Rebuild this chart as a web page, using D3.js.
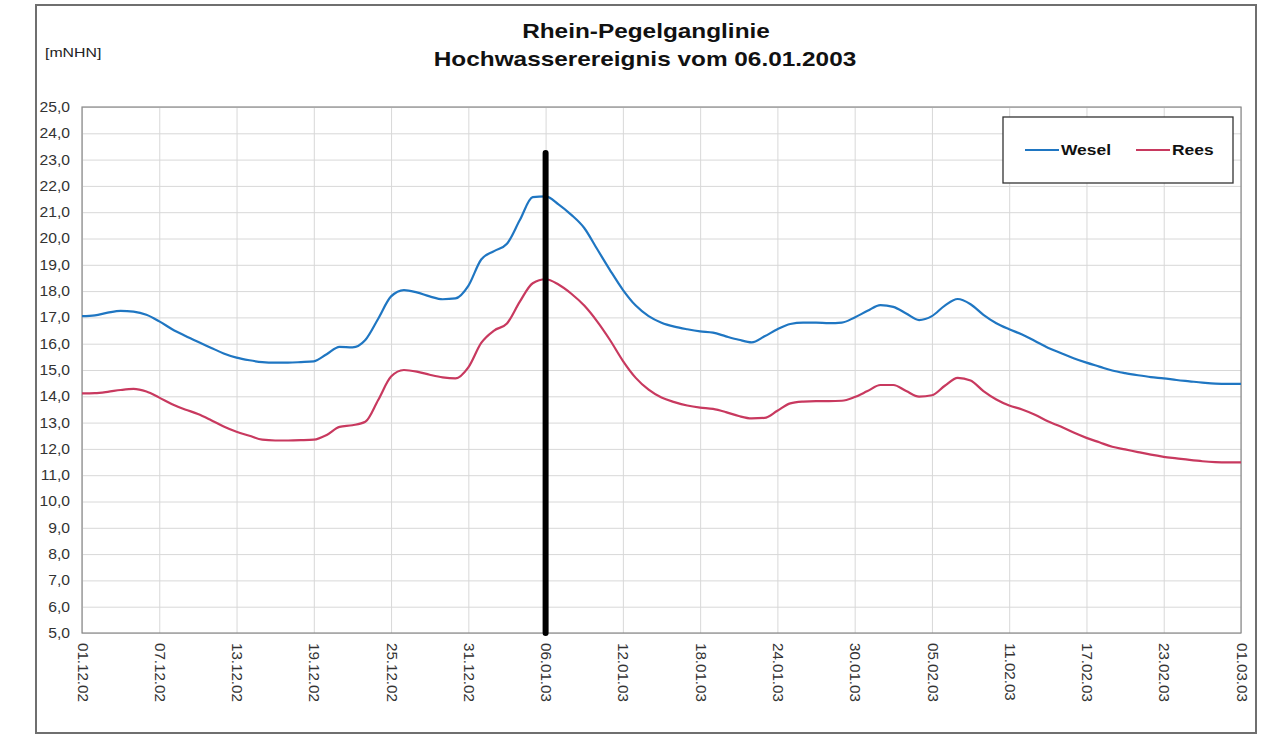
<!DOCTYPE html>
<html>
<head>
<meta charset="utf-8">
<script src="https://cdn.jsdelivr.net/npm/d3@7"></script>
<style>
body { margin: 0; background: #fff; }
text { font-family: "Liberation Sans", Arial, sans-serif; }
</style>
</head>
<body>
<svg width="1273" height="740"></svg>
<script>
var startDate = "01.12.02";
var tickLabels = ["01.12.02","07.12.02","13.12.02","19.12.02","25.12.02","31.12.02","06.01.03","12.01.03",
	"18.01.03","24.01.03","30.01.03","05.02.03","11.02.03","17.02.03","23.02.03","01.03.03"];
var eventDate = "06.01.03";
var eventTop = 23.25;

// daily water levels [mNHN] from 01.12.02
var wesel = [17.05,17.08,17.18,17.25,17.22,17.1,16.85,16.55,16.3,16.07,
	15.85,15.63,15.47,15.37,15.3,15.28,15.28,15.3,15.33,15.6,
	15.88,15.86,16.14,16.95,17.8,18.04,17.95,17.8,17.69,17.72,
	18.2,19.2,19.52,19.8,20.7,21.57,21.6,21.3,20.9,20.4,
	19.6,18.8,18.05,17.45,17.05,16.8,16.65,16.55,16.47,16.42,
	16.28,16.15,16.05,16.28,16.55,16.75,16.8,16.8,16.78,16.8,
	17.0,17.25,17.47,17.4,17.15,16.9,17.05,17.45,17.7,17.5,
	17.1,16.78,16.55,16.35,16.1,15.85,15.65,15.45,15.28,15.13,
	14.98,14.88,14.8,14.73,14.68,14.62,14.57,14.52,14.48,14.47,14.47];
var rees = [14.11,14.12,14.17,14.24,14.28,14.18,13.95,13.7,13.5,13.33,
	13.1,12.85,12.65,12.5,12.35,12.32,12.32,12.33,12.35,12.53,
	12.84,12.9,13.03,13.86,14.75,15.0,14.94,14.82,14.72,14.68,
	15.1,16.03,16.5,16.77,17.6,18.3,18.45,18.25,17.9,17.45,
	16.85,16.14,15.35,14.7,14.25,13.95,13.78,13.65,13.57,13.52,
	13.4,13.25,13.16,13.18,13.45,13.73,13.8,13.82,13.82,13.83,
	13.97,14.2,14.43,14.43,14.2,13.99,14.04,14.4,14.7,14.6,
	14.2,13.88,13.65,13.5,13.3,13.05,12.85,12.62,12.42,12.25,
	12.08,11.98,11.88,11.78,11.7,11.64,11.58,11.53,11.5,11.49,11.49];
var seriesNames = ["Wesel", "Rees"];
var seriesColors = ["#1f76c2", "#c8395f"];

var svg = d3.select("svg"),
	margin = {top: 107, right: 32, bottom: 107, left: 82},
	width = +svg.attr("width") - margin.left - margin.right,
	height = +svg.attr("height") - margin.top - margin.bottom,
	g = svg.append("g").attr("transform", "translate(" + margin.left + "," + margin.top + ")");

var parseDate = d3.timeParse("%d.%m.%y");
var t0 = parseDate(startDate);
var dayOf = function(i) { return d3.timeDay.offset(t0, i); };

// the scan is a bit wider than the font, so stretch text along its run
function stretch(sel, f) {
	sel.each(function() {
		var w = this.getComputedTextLength();
		d3.select(this).attr("textLength", w * f).attr("lengthAdjust", "spacingAndGlyphs");
	});
}

// outer frame
svg.append("rect")
	.attr("x", 36).attr("y", 5).attr("width", 1220).attr("height", 728)
	.attr("fill", "none").attr("stroke", "#6f6f6f").attr("stroke-width", 2);

svg.append("text").attr("x", 646).attr("y", 38)
	.attr("text-anchor", "middle").attr("font-weight", "bold").attr("font-size", 21)
	.attr("fill", "#111").text("Rhein-Pegelganglinie")
	.call(stretch, 1.16);
svg.append("text").attr("x", 645).attr("y", 66)
	.attr("text-anchor", "middle").attr("font-weight", "bold").attr("font-size", 21)
	.attr("fill", "#111").text("Hochwasserereignis vom 06.01.2003")
	.call(stretch, 1.16);
svg.append("text").attr("x", 45).attr("y", 57)
	.attr("font-size", 13).attr("fill", "#222").text("[mNHN]")
	.call(stretch, 1.22);

var x = d3.scaleTime()
	.domain([t0, dayOf(wesel.length - 1)])
	.range([0, width]);

var y = d3.scaleLinear()
	.domain([5, 25])
	.range([height, 0]);

var tickDates = tickLabels.map(parseDate);

// grid
g.append("g")
	.attr("class", "grid")
	.call(d3.axisLeft(y).tickValues(d3.range(5, 26, 1)).tickSize(-width).tickFormat(""))
	.call(function(s) { s.select(".domain").remove(); })
	.selectAll("line").attr("stroke", "#d8d8d8");
g.append("g")
	.attr("class", "grid")
	.attr("transform", "translate(0," + height + ")")
	.call(d3.axisBottom(x).tickValues(tickDates).tickSize(-height).tickFormat(""))
	.call(function(s) { s.select(".domain").remove(); })
	.selectAll("line").attr("stroke", "#d8d8d8");

g.append("rect")
	.attr("width", width).attr("height", height)
	.attr("fill", "none").attr("stroke", "#8a8a8a").attr("stroke-width", 1.2);

// axes labels
var yAxis = g.append("g")
	.call(d3.axisLeft(y).tickValues(d3.range(5, 26, 1)).tickSize(0).tickPadding(12)
		.tickFormat(function(d) { return d3.format(".1f")(d).replace(".", ","); }));
yAxis.select(".domain").remove();
yAxis.selectAll("text").attr("font-size", 14).attr("fill", "#333")
	.style("font-family", "'Liberation Sans', Arial, sans-serif")
	.call(stretch, 1.12);

var xAxis = g.append("g")
	.attr("transform", "translate(0," + height + ")")
	.call(d3.axisBottom(x).tickValues(tickDates).tickSize(0)
		.tickFormat(function(d, i) { return tickLabels[i]; }));
xAxis.select(".domain").remove();
xAxis.selectAll("text")
	.attr("font-size", 14).attr("fill", "#333")
	.style("font-family", "'Liberation Sans', Arial, sans-serif")
	.attr("text-anchor", "start")
	.attr("transform", "rotate(90)")
	.attr("x", 10).attr("y", 0).attr("dy", "0.35em")
	.call(stretch, 1.08);

var line = d3.line()
	.x(function(d, i) { return x(dayOf(i)); })
	.y(function(d) { return y(d); })
	.curve(d3.curveMonotoneX);

[wesel, rees].forEach(function(data, k) {
	g.append("path")
		.attr("fill", "none")
		.attr("stroke", seriesColors[k])
		.attr("stroke-width", 2.2)
		.attr("d", line(data));
});

// event marker
g.append("line")
	.attr("x1", x(parseDate(eventDate))).attr("x2", x(parseDate(eventDate)))
	.attr("y1", y(5)).attr("y2", y(eventTop))
	.attr("stroke", "#000").attr("stroke-width", 6).attr("stroke-linecap", "round");

// legend
var lg = svg.append("g").attr("transform", "translate(1003,117)");
lg.append("rect").attr("width", 230).attr("height", 66)
	.attr("fill", "#fff").attr("stroke", "#333").attr("stroke-width", 1.3);
var lx = [22, 133];
seriesNames.forEach(function(n, k) {
	lg.append("line").attr("x1", lx[k]).attr("x2", lx[k] + 34).attr("y1", 33).attr("y2", 33)
		.attr("stroke", seriesColors[k]).attr("stroke-width", 2.2);
	lg.append("text").attr("x", lx[k] + 36).attr("y", 38)
		.attr("font-size", 15).attr("font-weight", "bold").attr("fill", "#111").text(n)
		.call(stretch, 1.16);
});
</script>
</body>
</html>
